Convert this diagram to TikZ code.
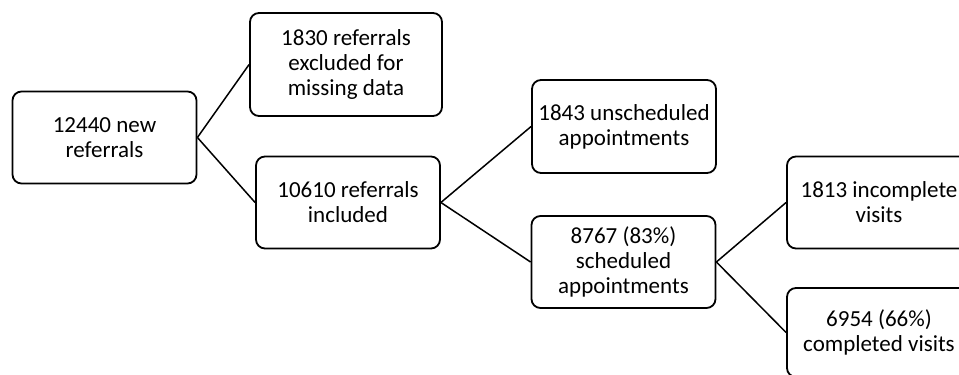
\documentclass[tikz,border=0pt]{standalone}
\usepackage{fontspec}
\setmainfont{Carlito}
\begin{document}
\begin{tikzpicture}[x=1pt,y=-1pt,
  flowbox/.style={draw=black, line width=1.8pt, rounded corners=9pt, align=center,
    inner sep=0pt, minimum width=184pt, minimum height=92pt,
    font=\fontsize{23}{25}\selectfont, text=black},
  link/.style={draw=black, line width=1.5pt}]
\useasboundingbox (0,0) rectangle (959,375);
\clip (0,0) rectangle (959,375);
\fill[white] (0,0) rectangle (959,375);
\node[flowbox] (a) at (104.5,137.5) {12440 new\\referrals};
\node[flowbox, minimum width=192pt, minimum height=103pt] (b) at (346,64.5) {1830 referrals\\excluded for\\missing data};
\node[flowbox] (c) at (348,202.5) {10610 referrals\\included};
\node[flowbox, minimum height=93pt] (d) at (624,126.5) {1843 unscheduled\\appointments};
\node[flowbox] (e) at (623.5,262) {8767 (83\%)\\scheduled\\appointments};
\node[flowbox] (f) at (879,202.5) {1813 incomplete\\visits};
\node[flowbox, minimum height=89pt] (g) at (879,332.5) {6954 (66\%)\\completed visits};
\draw[link] (a.east) -- (b.west);
\draw[link] (a.east) -- (c.west);
\draw[link] (c.east) -- (d.west);
\draw[link] (c.east) -- (e.west);
\draw[link] (e.east) -- (f.west);
\draw[link] (e.east) -- (g.west);
\end{tikzpicture}
\end{document}
